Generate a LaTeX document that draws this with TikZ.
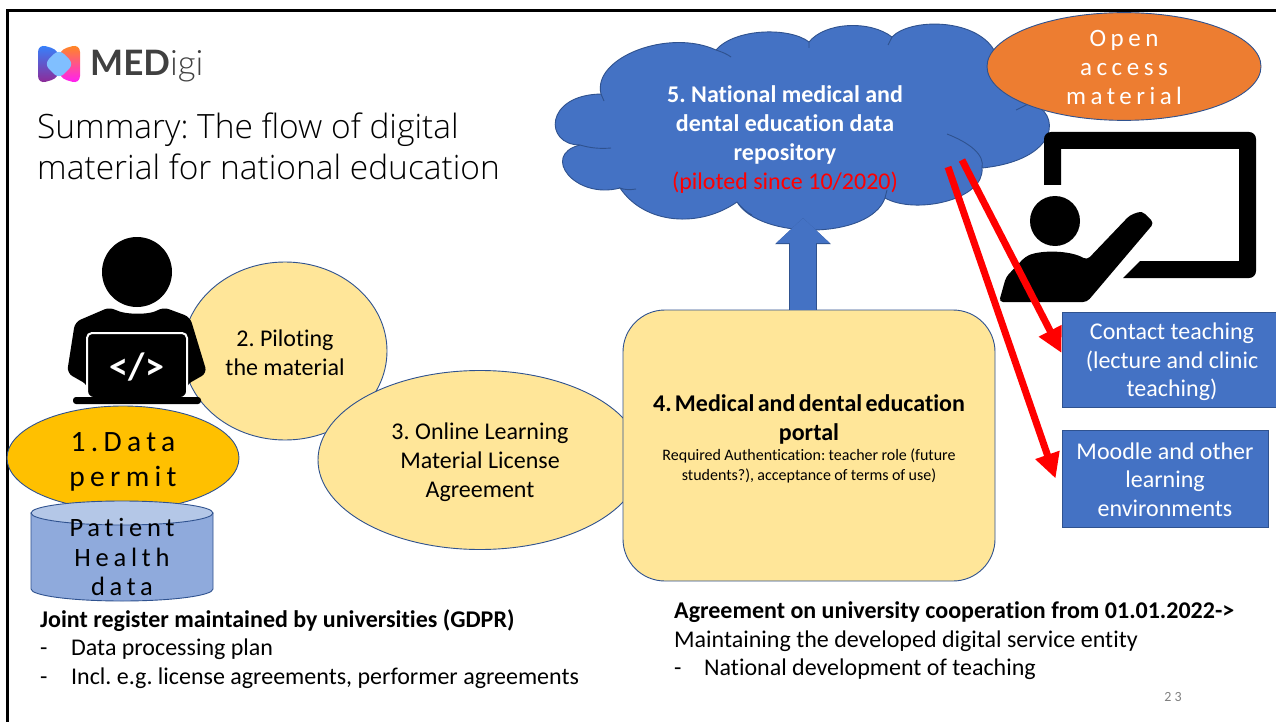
\documentclass[tikz,border=0pt]{standalone}
\usepackage{fontspec}
\setmainfont[Ligatures=CommonOff]{Carlito}
\newfontfamily\titlefont{Open Sans Light}
\newfontfamily\spacedfont[LetterSpace=18,Ligatures=CommonOff]{Carlito}
\newfontfamily\logofont{Lato}
\newfontfamily\logolight{Lato Light}
\usetikzlibrary{arrows.meta,shapes.geometric,calc}
\definecolor{cloudblue}{HTML}{4472C4}
\definecolor{edgeblue}{HTML}{2F528F}
\definecolor{paleyellow}{HTML}{FFE699}
\definecolor{gold}{HTML}{FFC000}
\definecolor{openorange}{HTML}{ED7D31}
\definecolor{cylbody}{HTML}{8FAADC}
\definecolor{cyltop}{HTML}{B4C7E7}
\newcommand{\sz}[2]{\fontsize{#1}{#2}\selectfont}
\newcommand{\lift}[1]{\rule{0pt}{#1pt}}
\tikzset{
  outlined/.style={draw=edgeblue,line width=0.9pt},
  blob/.style={ellipse,outlined,fill=paleyellow,inner sep=0pt,align=center,font=\sz{24}{29}},
  bluebox/.style={rectangle,outlined,fill=cloudblue,text=white,inner sep=0pt,align=center,font=\sz{24}{28.5}},
  plain/.style={inner sep=0pt,align=left,anchor=north west,font=\sz{24}{28.5}},
  redarrow/.style={red,line width=7pt,-{Triangle[width=24pt,length=25pt]}},
  bluearrow/.style={preaction={draw,edgeblue,line width=27.5pt,-{Triangle[width=54pt,length=26pt]}},
    cloudblue,line width=26pt,-{Triangle[width=52pt,length=25pt]}},
}
\begin{document}
\frenchspacing
\begin{tikzpicture}[x=1pt,y=-1pt]
  \useasboundingbox (0,0) rectangle (1276,722);
  \fill[white] (0,0) rectangle (1276,722);
  \draw[line width=3pt] (7,723) -- (7,11) -- (1277,11);

  \shade[top color=blue!60!cyan!80!white,bottom color=violet!85!white,rounded corners=8pt]
    (59,50) -- (38,44) -- (38,84) -- (59,78) -- cycle;
  \shade[top color=orange!90!white,bottom color=magenta!90!white,rounded corners=8pt]
    (59,50) -- (80,44) -- (80,84) -- (59,78) -- cycle;
  \fill[blue!50!cyan!50!white,rounded corners=7pt] (59,49) -- (74,64) -- (59,79) -- (44,64) -- cycle;
  \node[inner sep=0pt,anchor=west,text=black!75] (logo) at (90,66)
    {\sz{35}{35}\logofont\bfseries MED\logolight\mdseries igi};
  \node[plain,font=\sz{33.5}{41}\titlefont] (title) at (37,113)
    {Summary: The flow of digital\\material for national education};

  \node[blob,minimum width=204pt,minimum height=178pt] (piloting) at (285,351)
    {\lift{21}2. Piloting\\the material};

  \fill (137,272) circle (35);
  \fill[rounded corners=6pt] (110,307) .. controls (125,315) and (150,315) .. (163,307)
    -- (190,317) -- (207,373) -- (186,385) -- (186,397) -- (88,397) -- (88,385) -- (67,373) -- (75,322) -- cycle;
  \draw[white,line width=2pt,rounded corners=5pt] (87,397) -- (87,333) -- (187,333) -- (187,397);
  \fill[rounded corners=3pt] (73,397) rectangle (201,404);
  \node[text=white,inner sep=0pt,font=\sz{38}{38}\bfseries] (code) at (137,367) {</>};

  \node[blob,minimum width=324pt,minimum height=179pt] (license) at (480,460)
    {\lift{21}3. Online Learning\\Material License\\Agreement};
  \node[blob,fill=gold,minimum width=232pt,minimum height=104pt,font=\sz{29.5}{35}\spacedfont] (permit) at (123,458)
    {\lift{26}1.Data\\permit};
  \draw[outlined,fill=cylbody] (31,513) -- (31,589) arc[start angle=180,end angle=0,x radius=91,y radius=12] -- (213,513) -- cycle;
  \draw[outlined,fill=cyltop] (122,513) ellipse [x radius=91,y radius=12];
  \node[inner sep=0pt,align=center,font=\sz{26.5}{29.5}\spacedfont] (health) at (122,557)
    {Patient\\Health\\data};

  \node[rectangle,rounded corners=42pt,outlined,fill=paleyellow,minimum width=372pt,minimum height=271pt] (portal) at (809,445.5) {};
  \node[inner sep=0pt,text width=350pt,align=center] (portaltext) at (809,439)
    {{\sz{24}{28.5}\bfseries 4. Medical and dental education\\portal\par}
     {\sz{16}{20}Required Authentication: teacher role (future\\students?), acceptance of terms of use)\par}};

  \fill[cloudblue] (580,145) .. controls (544,145) and (544,95) .. (601,94)
    .. controls (592,58) and (668,28) .. (716,50)
    .. controls (735,28) and (790,27) .. (809,42)
    .. controls (825,22) and (870,20) .. (892,37)
    .. controls (910,18) and (975,18) .. (994,50)
    -- (1030,103)
    .. controls (1062,112) and (1060,160) .. (982,168)
    .. controls (985,200) and (915,215) .. (885,198)
    .. controls (870,240) and (760,240) .. (737,202)
    .. controls (700,228) and (645,225) .. (620,188)
    .. controls (575,200) and (540,155) .. (580,145) -- cycle;
  \draw[outlined] (611,148) .. controls (600,149) and (590,148) .. (580,145)
    .. controls (544,145) and (544,95) .. (601,94) -- (604,101);
  \draw[outlined] (601,94) .. controls (592,58) and (668,28) .. (716,50)
    .. controls (722,52) and (727,54) .. (731,57);
  \draw[outlined] (809,48) -- (809,42) .. controls (790,27) and (735,28) .. (716,50);
  \draw[outlined] (888,45) -- (892,37) .. controls (870,20) and (825,22) .. (809,42);
  \draw[outlined] (892,37) .. controls (910,18) and (975,18) .. (994,50);
  \draw[outlined] (1016,110) -- (1030,103) .. controls (1062,112) and (1060,160) .. (982,168);
  \draw[outlined] (947,134) .. controls (970,143) and (985,155) .. (982,168)
    .. controls (985,200) and (915,215) .. (885,198) -- (887,190);
  \draw[outlined] (885,198) .. controls (870,240) and (760,240) .. (737,202) .. controls (742,208) and (746,212) .. (752,215);
  \draw[outlined] (737,202) .. controls (700,228) and (645,225) .. (620,188) .. controls (625,190) and (630,190) .. (636,189);
  \draw[outlined] (620,188) .. controls (575,200) and (540,155) .. (580,145);

  \node[inner sep=0pt,align=center,text=white,font=\sz{24}{29}] (repo) at (785,140)
    {\textbf{5. National medical and}\\\textbf{dental education data}\\\textbf{repository}\\\textcolor{red}{(piloted since 10/2020)}};
  \coordinate (cloudtip) at (803,218);
  \draw[bluearrow] (portal.north -| cloudtip) -- (cloudtip);

  \node[ellipse,outlined,fill=openorange,text=white,inner sep=0pt,align=center,
    minimum width=274pt,minimum height=101pt,font=\sz{25}{29}\spacedfont] (open) at (1124,66.5)
    {\lift{18}Open\\access\\material};

  \fill[rounded corners=7pt] (1044,185) -- (1044,132) -- (1256,132) -- (1256,278) [sharp corners] -- (1123,278) -- (1140,261) -- (1239,261) -- (1239,149) -- (1061,149) -- (1061,185) -- cycle;
  \fill (1055,221) circle (25);
  \fill[rounded corners=4pt] (999,302) -- (1006,277) -- (1025,257) .. controls (1040,250) and (1070,250) .. (1087,260)
    -- (1130,215) -- (1142,211) -- (1154,223) -- (1087,302) -- cycle;

  \node[bluebox,minimum width=220pt,minimum height=95pt] (contact) at (1172,360)
    {\lift{21}Contact teaching\\(lecture and clinic\\teaching)};
  \node[bluebox,minimum width=206pt,minimum height=97pt] (moodle) at (1165,478.5)
    {\lift{19}Moodle and other\\learning\\environments};
  \coordinate (cloudout) at (962,160);
  \coordinate (cloudin) at (948,167);
  \draw[redarrow] (cloudout) -- ([yshift=7pt]contact.west);
  \draw[redarrow] (cloudin) -- ([xshift=-6pt]moodle.west);

  \node[plain] (register) at (40,609)
    {\textbf{Joint register maintained by universities (GDPR)}\\
     \makebox[31pt][l]{-}Data processing plan\\
     \makebox[31pt][l]{-}Incl. e.g. license agreements, performer agreements};
  \node[plain] (agreement) at (674,601.5)
    {\textbf{Agreement on university cooperation from 01.01.2022->}\\
     Maintaining the developed digital service entity\\
     \makebox[30pt][l]{-}National development of teaching};
  \node[text=black!50,inner sep=0pt,font=\sz{14}{14}] (pagenum) at (1173,697) {2 3};
\end{tikzpicture}
\end{document}
